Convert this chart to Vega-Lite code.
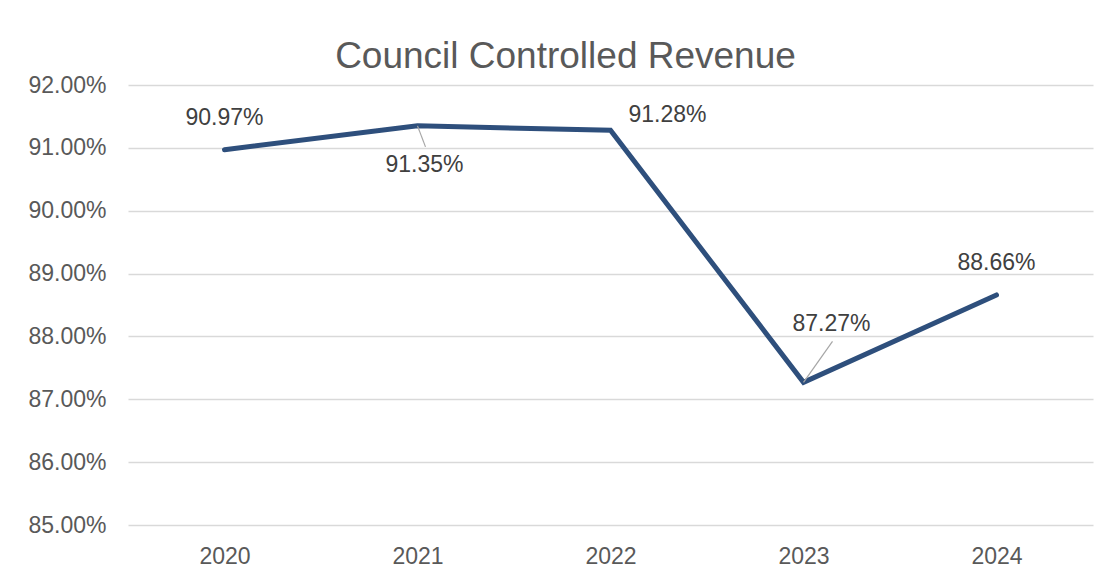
{
  "$schema": "https://vega.github.io/schema/vega-lite/v6.json",
  "width": 965,
  "height": 440,
  "autosize": {"type": "none"},
  "padding": {"left": 128, "top": 85, "right": 16, "bottom": 55},
  "background": "white",
  "config": {
    "font": "Liberation Sans",
    "view": {"stroke": null}
  },
  "title": {
    "text": "Council Controlled Revenue",
    "font": "Liberation Sans",
    "fontSize": 37,
    "fontWeight": "normal",
    "color": "#595959",
    "anchor": "middle",
    "baseline": "alphabetic",
    "offset": 18,
    "dx": -45,
    "dy": 49
  },
  "data": {
    "values": [
      {"year": "2020", "value": 0.9097, "label": "90.97%"},
      {"year": "2021", "value": 0.9135, "label": "91.35%"},
      {"year": "2022", "value": 0.9128, "label": "91.28%"},
      {"year": "2023", "value": 0.8727, "label": "87.27%"},
      {"year": "2024", "value": 0.8866, "label": "88.66%"}
    ]
  },
  "encoding": {
    "x": {
      "field": "year",
      "type": "ordinal",
      "scale": {"type": "point", "padding": 0.5},
      "axis": {
        "title": null,
        "domain": false,
        "ticks": false,
        "labelAngle": 0,
        "labelFont": "Liberation Sans",
        "labelFontSize": 23,
        "labelColor": "#595959",
        "labelBaseline": "alphabetic",
        "labelPadding": 38
      }
    },
    "y": {
      "field": "value",
      "type": "quantitative",
      "scale": {"domain": [0.85, 0.92], "nice": false, "zero": false},
      "axis": {
        "title": null,
        "values": [0.85, 0.86, 0.87, 0.88, 0.89, 0.90, 0.91, 0.92],
        "format": ".2%",
        "domain": false,
        "ticks": false,
        "grid": true,
        "gridColor": "#D9D9D9",
        "gridWidth": 1.5,
        "labelFont": "Liberation Sans",
        "labelFontSize": 23,
        "labelColor": "#595959",
        "labelPadding": 22
      }
    }
  },
  "layer": [
    {
      "mark": {"type": "line", "color": "#2E4F7C", "strokeWidth": 5, "strokeCap": "round", "strokeJoin": "miter"}
    },
    {
      "transform": [{"filter": "datum.year == '2021'"}],
      "mark": {"type": "rule", "color": "#A6A6A6", "strokeWidth": 1.2, "x2Offset": 8, "y2Offset": 21},
      "encoding": {"x2": {"field": "year"}, "y2": {"field": "value"}}
    },
    {
      "transform": [{"filter": "datum.year == '2023'"}],
      "mark": {"type": "rule", "color": "#A6A6A6", "strokeWidth": 1.2, "x2Offset": 29, "y2Offset": -41},
      "encoding": {"x2": {"field": "year"}, "y2": {"field": "value"}}
    },
    {
      "transform": [{"filter": "datum.year == '2020' || datum.year == '2024'"}],
      "mark": {"type": "text", "fontSize": 23, "color": "#404040", "dy": -32, "baseline": "middle"},
      "encoding": {"text": {"field": "label"}}
    },
    {
      "transform": [{"filter": "datum.year == '2021'"}],
      "mark": {"type": "text", "fontSize": 23, "color": "#404040", "dx": 7, "dy": 39, "baseline": "middle"},
      "encoding": {"text": {"field": "label"}}
    },
    {
      "transform": [{"filter": "datum.year == '2022'"}],
      "mark": {"type": "text", "fontSize": 23, "color": "#404040", "dx": 57, "dy": -15, "baseline": "middle"},
      "encoding": {"text": {"field": "label"}}
    },
    {
      "transform": [{"filter": "datum.year == '2023'"}],
      "mark": {"type": "text", "fontSize": 23, "color": "#404040", "dx": 28, "dy": -58, "baseline": "middle"},
      "encoding": {"text": {"field": "label"}}
    }
  ]
}
